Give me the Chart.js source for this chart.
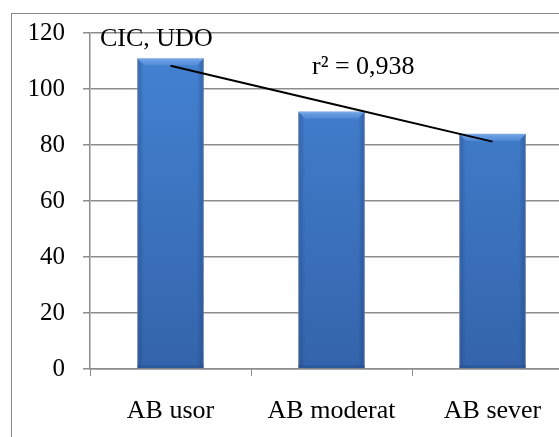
<!DOCTYPE html>
<html>
<head>
<meta charset="utf-8">
<script src="https://cdn.jsdelivr.net/npm/chart.js@4.4.0/dist/chart.umd.min.js"></script>
<style>
    html, body { margin: 0; padding: 0; background: #fff; overflow: hidden; }
    #wrap { position: relative; width: 559px; height: 437px; overflow: hidden; }
    #frame { position: absolute; left: 11px; top: 13px; width: 600px; height: 480px; border: 1px solid #8a8a8a; }
    #box { position: absolute; left: 0; top: 0; width: 600px; height: 470px; }
</style>
</head>
<body>
<div id="wrap">
    <div id="frame"></div>
    <div id="box"><canvas id="servoChart"></canvas></div>
</div>
<script>
// Dữ liệu biểu đồ
const categories = ['AB usor', 'AB moderat', 'AB sever'];
const values = [111, 92, 84];
const trendValues = [108.3, 94.7, 81.2];   // đường xu hướng
const yTicks = [0, 20, 40, 60, 80, 100, 120];
const groupLabel = 'CIC, UDO';
const r2Label = 'r\u00B2 = 0,938';

const fontFamily = '"Liberation Serif", "Times New Roman", serif';
const gridColor = '#8c8c8c';

// Vẽ hiệu ứng vát cạnh cho cột
const bevelPlugin = {
    id: 'bevel',
    afterDatasetDraw(chart, args) {
        if (args.index !== 0) return;
        const ctx = chart.ctx;
        const b = 7;
        args.meta.data.forEach(el => {
            const l = el.x - el.width / 2, r = el.x + el.width / 2;
            const t = el.y, bt = el.base;
            ctx.save();
            // mặt trên sáng
            const gt = ctx.createLinearGradient(0, t, 0, t + b);
            gt.addColorStop(0, 'rgba(120,170,235,0.9)');
            gt.addColorStop(1, 'rgba(100,155,225,0.5)');
            ctx.fillStyle = gt;
            ctx.beginPath();
            ctx.moveTo(l, t); ctx.lineTo(r, t); ctx.lineTo(r - b, t + b); ctx.lineTo(l + b, t + b);
            ctx.closePath(); ctx.fill();
            // hai bên tối
            const gl = ctx.createLinearGradient(l, 0, l + b, 0);
            gl.addColorStop(0, 'rgba(20,50,110,0.35)');
            gl.addColorStop(1, 'rgba(20,50,110,0)');
            ctx.fillStyle = gl;
            ctx.beginPath();
            ctx.moveTo(l, t); ctx.lineTo(l + b, t + b); ctx.lineTo(l + b, bt - 3); ctx.lineTo(l, bt);
            ctx.closePath(); ctx.fill();
            const gr = ctx.createLinearGradient(r, 0, r - b, 0);
            gr.addColorStop(0, 'rgba(20,50,110,0.4)');
            gr.addColorStop(1, 'rgba(20,50,110,0)');
            ctx.fillStyle = gr;
            ctx.beginPath();
            ctx.moveTo(r, t); ctx.lineTo(r - b, t + b); ctx.lineTo(r - b, bt - 3); ctx.lineTo(r, bt);
            ctx.closePath(); ctx.fill();
            ctx.fillStyle = 'rgba(20,50,110,0.25)';
            ctx.fillRect(l, bt - 3, el.width, 3);
            ctx.restore();
        });
    }
};

// Chữ chú thích trên biểu đồ
const notesPlugin = {
    id: 'notes',
    afterDraw(chart) {
        const ctx = chart.ctx;
        const area = chart.chartArea;
        ctx.save();
        ctx.fillStyle = '#000';
        ctx.font = '26px ' + fontFamily;
        ctx.textBaseline = 'alphabetic';
        ctx.fillText(groupLabel, area.left + 10, area.top + 13);
        ctx.fillText(r2Label, area.left + 222, area.top + 41);
        ctx.restore();
    }
};

new Chart(document.getElementById('servoChart'), {
    type: 'bar',
    data: {
        labels: categories,
        datasets: [
            {
                type: 'bar',
                data: values,
                order: 1,
                backgroundColor(c) {
                    const area = c.chart.chartArea;
                    if (!area) return '#3f7bc9';
                    const g = c.chart.ctx.createLinearGradient(0, area.top, 0, area.bottom);
                    g.addColorStop(0, '#4484d4');
                    g.addColorStop(1, '#3464ab');
                    return g;
                },
                borderColor: 'rgba(160,175,200,0.9)',
                borderWidth: 1,
                barPercentage: 0.415,
                categoryPercentage: 1
            },
            {
                type: 'line',
                data: trendValues,
                order: 0,
                borderColor: '#000',
                borderWidth: 2,
                pointRadius: 0,
                fill: false,
                tension: 0
            }
        ]
    },
    options: {
        responsive: true,
        maintainAspectRatio: false,
        animation: false,
        layout: { padding: { left: 30, top: 32, right: 27, bottom: 0 } },
        plugins: {
            legend: { display: false },
            tooltip: { enabled: false }
        },
        scales: {
            x: {
                grid: { display: true, drawOnChartArea: false, color: gridColor, tickLength: 7, offset: true },
                border: { display: true, color: gridColor, width: 1.5 },
                ticks: { color: '#000', font: { family: fontFamily, size: 26 }, padding: 20, maxRotation: 0 },
                afterFit(scale) { scale.height = 101; }
            },
            y: {
                min: 0,
                max: 120,
                afterBuildTicks(scale) { scale.ticks = yTicks.map(v => ({ value: v })); },
                grid: { color: gridColor, lineWidth: 1.5, tickLength: 7 },
                border: { display: true, color: gridColor, width: 1.5 },
                ticks: { color: '#000', font: { family: fontFamily, size: 25 }, padding: 18 },
                afterFit(scale) { scale.width = 60; }
            }
        }
    },
    plugins: [bevelPlugin, notesPlugin]
});
</script>
</body>
</html>
